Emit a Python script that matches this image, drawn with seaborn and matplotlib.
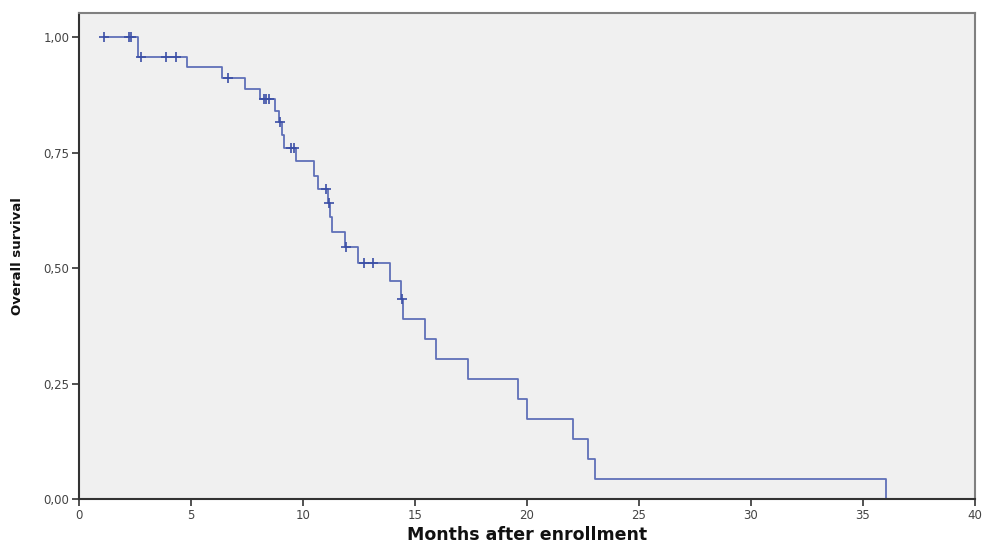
import matplotlib
matplotlib.use("Agg")
import matplotlib.pyplot as plt
import numpy as np
import pandas as pd
import seaborn as sns

sns.set_theme(style="white")
plt.rcParams["font.family"] = ["DejaVu Sans"]

# Kaplan-Meier steps: event times (months) and survival after each step
# (curve starts at the first observed time)
step_times = [1.12, 2.65, 4.81, 6.38, 7.42, 8.06, 8.76, 8.95, 9.05, 9.17, 9.70,
              10.50, 10.65, 11.10, 11.19, 11.29, 11.89, 12.44, 13.90, 14.38,
              14.45, 15.46, 15.94, 17.37, 19.59, 20.00, 22.05, 22.72, 23.02, 36.02]
survival = [1.000, 0.957, 0.935, 0.912, 0.888, 0.865, 0.840, 0.815, 0.787, 0.760,
            0.732, 0.700, 0.672, 0.641, 0.611, 0.577, 0.546, 0.511, 0.472, 0.432,
            0.390, 0.346, 0.302, 0.259, 0.216, 0.173, 0.129, 0.086, 0.043, 0.000]

# Censored observations (months)
censor_times = [1.12, 2.23, 2.32, 2.77, 3.89, 4.34, 6.64, 8.24, 8.36, 8.48,
                8.98, 9.46, 9.58, 11.03, 11.14, 11.93, 12.74, 13.13, 14.40]

x_ticks = [0, 5, 10, 15, 20, 25, 30, 35, 40]
y_ticks = [0.0, 0.25, 0.50, 0.75, 1.0]
y_tick_labels = ["0,00", "0,25", "0,50", "0,75", "1,00"]

curve = pd.DataFrame({"time": step_times, "surv": survival})
idx = np.searchsorted(step_times, censor_times, side="right") - 1
censored = pd.DataFrame({"time": censor_times,
                         "surv": np.array(survival)[idx]})

fig = plt.figure(figsize=(9.86, 5.44), dpi=100)
ax = fig.add_axes([79 / 986, 45 / 544, 896 / 986, 486 / 544])
ax.set_facecolor("#f0f0f0")

sns.lineplot(data=curve, x="time", y="surv", drawstyle="steps-post",
             color="#5f70b8", linewidth=1.3, ax=ax)
sns.scatterplot(data=censored, x="time", y="surv", marker="+", s=45,
                color="#3b4fa6", linewidth=1.2, ax=ax, zorder=3)

ax.set_xlim(0, 40)
ax.set_ylim(0, 1.052)
ax.set_xticks(x_ticks)
ax.set_xticklabels([str(t) for t in x_ticks])
ax.set_yticks(y_ticks)
ax.set_yticklabels(y_tick_labels)
ax.tick_params(axis="both", direction="out", length=5, width=1.2,
               color="#333333", labelsize=8.5, labelcolor="#444444", pad=2,
               bottom=True, left=True)

for side in ["left", "bottom"]:
    ax.spines[side].set_color("#333333")
    ax.spines[side].set_linewidth(1.5)
for side in ["top", "right"]:
    ax.spines[side].set_color("#808080")
    ax.spines[side].set_linewidth(1.5)

ax.set_xlabel("Months after enrollment", fontsize=12.5, fontweight="bold",
              labelpad=3, color="#111111")
ax.set_ylabel("Overall survival", fontsize=9.5, fontweight="bold",
              labelpad=14, color="#111111")

plt.savefig("out.png", dpi=100)
